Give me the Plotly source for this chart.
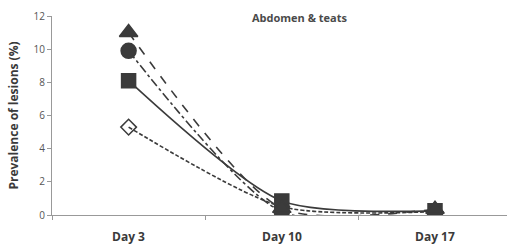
import plotly.graph_objects as go

days = ["Day 3", "Day 10", "Day 17"]
triangle_vals = [11.0, 0.4, 0.35]
circle_vals = [9.9, 0.2, 0.0]
square_vals = [8.1, 0.85, 0.25]
diamond_vals = [5.3, 0.5, 0.2]

dark = "#3b3b3b"
fig = go.Figure()

series = [
    (diamond_vals, "diamond-open", "4px,2px", 12),
    (square_vals, "square", "solid", 14),
    (circle_vals, "circle", "dashdot", 15),
    (triangle_vals, "triangle-up", "dash", 16),
]
for vals, sym, dash, size in series:
    fig.add_trace(go.Scatter(
        x=days, y=vals, mode="lines+markers",
        line=dict(color=dark, width=1.6, dash=dash, shape="spline", smoothing=0.7),
        marker=dict(symbol=sym, size=size, color=dark, line=dict(color=dark, width=1.5)),
        showlegend=False,
    ))

annos = [dict(text="<b>Abdomen & teats</b>", x=0.545, y=0.99, xref="paper", yref="paper",
              showarrow=False, font=dict(size=11, color="#4a4a4a"), xanchor="center", yanchor="middle")]
for d in days:
    annos.append(dict(text="<b>" + d + "</b>", x=d, y=-0.11, xref="x", yref="paper",
                      showarrow=False, font=dict(size=12, color="#3a3a3a"),
                      xanchor="center", yanchor="middle"))

fig.update_layout(
    width=507, height=244,
    margin=dict(l=52, r=0, t=16, b=29),
    plot_bgcolor="white", paper_bgcolor="white",
    font=dict(family="Open Sans", color="#4a4a4a"),
    annotations=annos,
)
fig.update_xaxes(
    type="category", range=[-0.5, 2.47], tickson="boundaries", showticklabels=False,
    showline=True, linecolor="#999999", linewidth=1, ticks="outside", ticklen=4, tickcolor="#999999",
    showgrid=False, zeroline=False, automargin=False,
)
fig.update_yaxes(
    range=[0, 12], dtick=2, showline=True, linecolor="#999999", linewidth=1,
    ticks="outside", ticklen=4, tickcolor="#999999", showgrid=False, zeroline=False,
    tickfont=dict(size=10, color="#555555"), automargin=False,
    title=dict(text="<b>Prevalence of lesions (%)</b>", font=dict(size=12, color="#3a3a3a"), standoff=12),
)
fig.write_html("out.html", config={"displayModeBar": False},
               post_script="document.body.style.margin='0';document.body.style.overflow='hidden';")
